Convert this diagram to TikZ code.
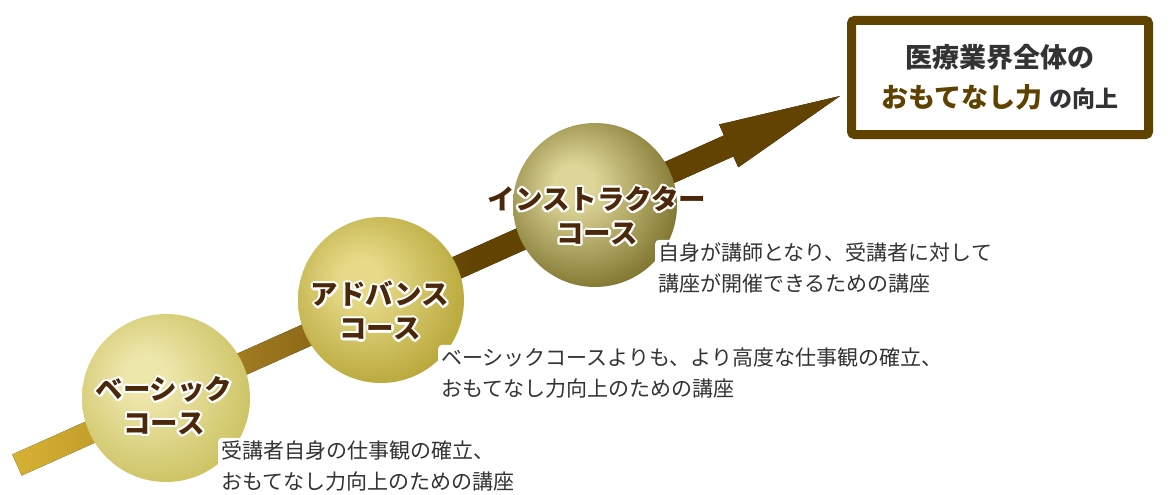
\documentclass[tikz,border=0pt]{standalone}
\usepackage{fontspec}
\newfontfamily\jp{Noto Sans CJK JP}
\usepackage[copies]{contour}
\contourlength{2.1pt}
\contournumber{16}
\definecolor{ag1}{RGB}{214,178,50}
\definecolor{ag2}{RGB}{160,122,32}
\definecolor{ag3}{RGB}{98,67,2}
\definecolor{b1in}{RGB}{238,231,172}
\definecolor{b1out}{RGB}{203,193,96}
\definecolor{b2in}{RGB}{230,218,136}
\definecolor{b2out}{RGB}{182,166,56}
\definecolor{b3in}{RGB}{222,214,152}
\definecolor{b3out}{RGB}{124,114,44}
\definecolor{labelc}{RGB}{75,40,10}
\definecolor{textc}{RGB}{51,51,51}
\definecolor{framec}{RGB}{96,66,0}
\pgfdeclarehorizontalshading{arrowsh}{100bp}{color(0bp)=(ag1); color(25bp)=(ag1); color(39bp)=(ag2); color(53bp)=(ag3); color(100bp)=(ag3)}
\pgfdeclareradialshading{ballone}{\pgfpoint{-7bp}{7bp}}{color(0bp)=(b1in); color(6bp)=(b1in); color(31bp)=(b1out); color(60bp)=(b1out)}
\pgfdeclareradialshading{balltwo}{\pgfpoint{-7bp}{7bp}}{color(0bp)=(b2in); color(6bp)=(b2in); color(31bp)=(b2out); color(60bp)=(b2out)}
\pgfdeclareradialshading{ballthree}{\pgfpoint{-7bp}{7bp}}{color(0bp)=(b3in); color(6bp)=(b3in); color(31bp)=(b3out); color(60bp)=(b3out)}
\tikzset{
  ballnode/.style={circle, draw=none, inner sep=0pt},
  balllabel/.style={font=\jp\bfseries\fontsize{27.5}{34}\selectfont, text=labelc, align=center, inner sep=0pt},
  desc/.style={font=\jp\fontsize{21}{31}\selectfont, text=textc, align=left, fill=white, rounded corners=4pt, inner sep=3pt, anchor=west},
  goalbox/.style={draw=framec, line width=9pt, fill=white, rounded corners=3pt, minimum width=297pt, minimum height=114pt, align=center, font=\jp\bfseries\fontsize{27}{40}\selectfont, text=textc}
}
\begin{document}
\begin{tikzpicture}[x=1pt,y=-1pt]
\useasboundingbox (0,0) rectangle (1170,495);
% main arrow
\fill[shading=arrowsh] (12.3,454.5) -- (724,135.4) -- (719.1,124.5) -- (840,96) -- (738.3,167.3) -- (733.4,156.4) -- (21.7,475.5) -- cycle;
% circles
\node[ballnode, shading=ballone, minimum size=168pt] (c1) at (166,398) {};
\node[ballnode, shading=balltwo, minimum size=166pt] (c2) at (381,300) {};
\node[ballnode, shading=ballthree, minimum size=164pt] (c3) at (595,205) {};
% circle labels
\node[balllabel] (l1) at (164,407) {\contour{white}{ベーシック}\\\contour{white}{コース}};
\node[balllabel] (l2) at (380,312) {\contour{white}{アドバンス}\\\contour{white}{コース}};
\node[balllabel] (l3) at (597,217) {\contour{white}{インストラクター}\\\contour{white}{コース}};
% descriptions
\node[desc] (d1) at (218,466) {受講者自身の仕事観の確立、\\おもてなし力向上のための講座};
\node[desc] (d2) at (438,373) {ベーシックコースよりも、より高度な仕事観の確立、\\おもてなし力向上のための講座};
\node[desc] (d3) at (655,268) {自身が講師となり、受講者に対して\\講座が開催できるための講座};
% goal box
\node[goalbox] (goal) at (1000,77.5) {医療業界全体の\\{\color{framec}おもてなし力}\hspace{7pt}{\fontsize{23}{40}\selectfont の向上}};
\end{tikzpicture}
\end{document}
